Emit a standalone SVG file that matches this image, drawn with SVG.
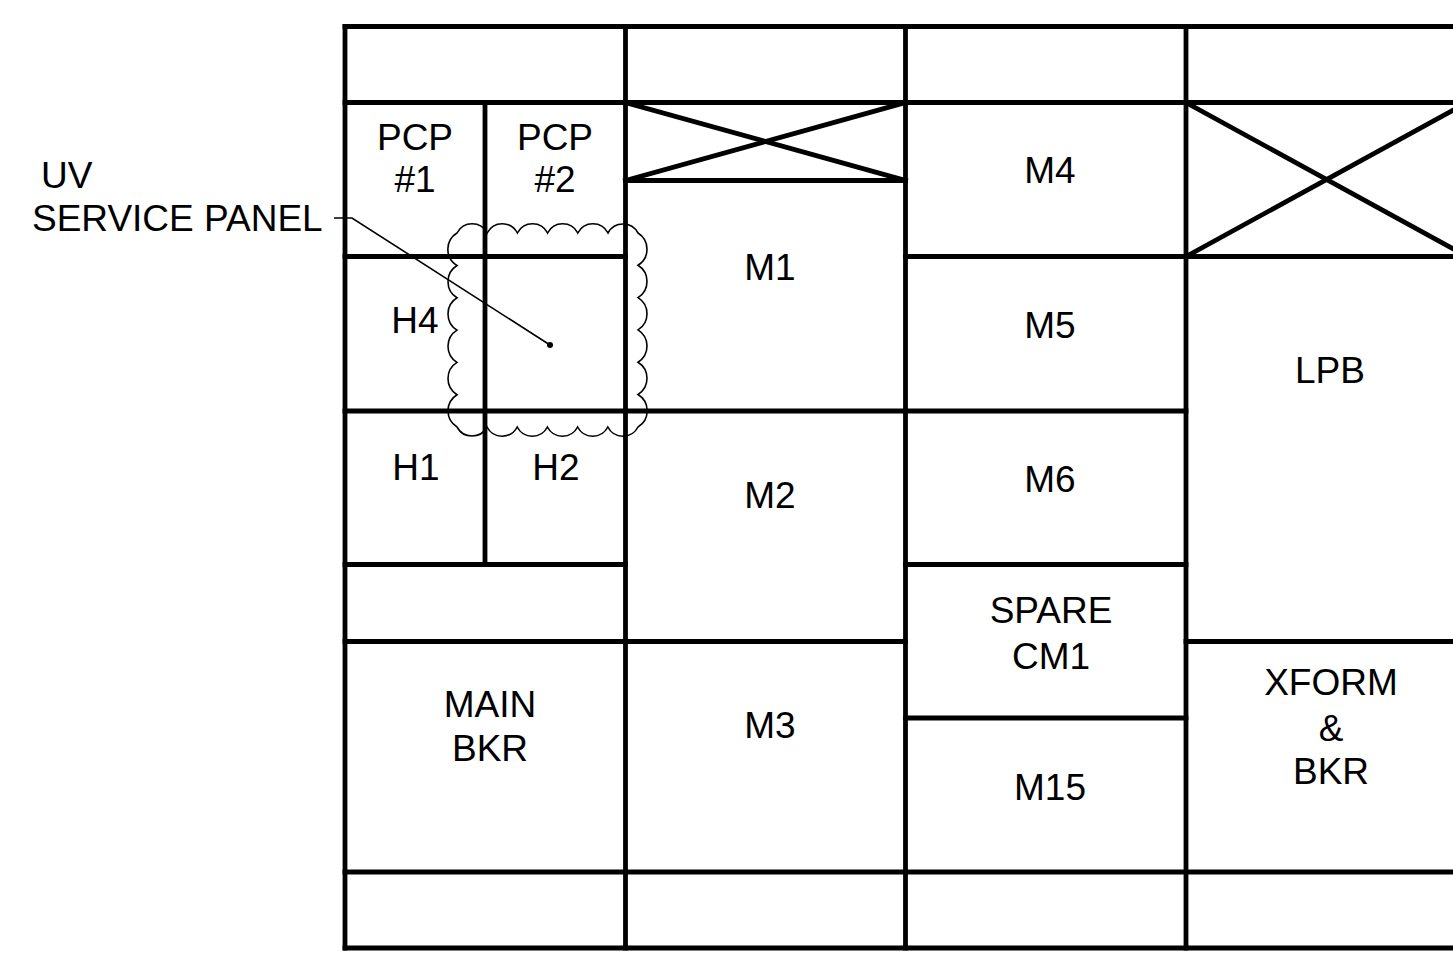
<svg xmlns="http://www.w3.org/2000/svg" width="1453" height="970" viewBox="0 0 1453 970">
<style>
.g{stroke:#000;stroke-width:4.8;fill:none;stroke-linecap:square}
.t{font-family:"Liberation Sans",Arial,sans-serif;font-size:37px;fill:#000;text-anchor:middle}
.tl{font-family:"Liberation Sans",Arial,sans-serif;font-size:37px;fill:#000}
.thin{stroke:#000;stroke-width:1.6;fill:none}
</style>
<rect width="1453" height="970" fill="#fff"/>
<g id="frame" class="g">
<line x1="345" y1="26.5" x2="1467" y2="26.5"/>
<line x1="345" y1="102.5" x2="1467" y2="102.5"/>
<line x1="625.5" y1="180.5" x2="905.5" y2="180.5"/>
<line x1="345" y1="256.5" x2="625.5" y2="256.5"/>
<line x1="905.5" y1="256.5" x2="1467" y2="256.5"/>
<line x1="345" y1="411" x2="1186" y2="411"/>
<line x1="345" y1="564.5" x2="625.5" y2="564.5"/>
<line x1="905.5" y1="564.5" x2="1186" y2="564.5"/>
<line x1="345" y1="641.5" x2="905.5" y2="641.5"/>
<line x1="1186" y1="641.5" x2="1467" y2="641.5"/>
<line x1="905.5" y1="718" x2="1186" y2="718"/>
<line x1="345" y1="872" x2="1467" y2="872"/>
<line x1="345" y1="948" x2="1467" y2="948"/>
<line x1="345" y1="26.5" x2="345" y2="948"/>
<line x1="625.5" y1="26.5" x2="625.5" y2="948"/>
<line x1="905.5" y1="26.5" x2="905.5" y2="948"/>
<line x1="1186" y1="26.5" x2="1186" y2="948"/>
<line x1="485" y1="102.5" x2="485" y2="564.5"/>
<line x1="1467" y1="26.5" x2="1467" y2="948"/>
</g>
<g id="blank-x1" class="g">
<line x1="625.5" y1="102.5" x2="905.5" y2="180.5"/>
<line x1="625.5" y1="180.5" x2="905.5" y2="102.5"/>
</g>
<g id="blank-x2" class="g">
<line x1="1186" y1="102.5" x2="1467" y2="256.5"/>
<line x1="1186" y1="256.5" x2="1467" y2="102.5"/>
</g>
<g id="pcp1"><text class="t" x="415" y="150">PCP</text><text class="t" x="415" y="192">#1</text></g>
<g id="pcp2"><text class="t" x="555" y="150">PCP</text><text class="t" x="555" y="192">#2</text></g>
<g id="h4"><text class="t" x="415" y="333">H4</text></g>
<g id="h1"><text class="t" x="416" y="480">H1</text></g>
<g id="h2"><text class="t" x="556" y="480">H2</text></g>
<g id="main-bkr"><text class="t" x="490" y="717">MAIN</text><text class="t" x="490" y="761">BKR</text></g>
<g id="m1"><text class="t" x="770" y="280">M1</text></g>
<g id="m2"><text class="t" x="770" y="508">M2</text></g>
<g id="m3"><text class="t" x="770" y="738">M3</text></g>
<g id="m4"><text class="t" x="1050" y="183">M4</text></g>
<g id="m5"><text class="t" x="1050" y="338">M5</text></g>
<g id="m6"><text class="t" x="1050" y="492">M6</text></g>
<g id="spare-cm1"><text class="t" x="1051" y="623">SPARE</text><text class="t" x="1051" y="669">CM1</text></g>
<g id="m15"><text class="t" x="1050" y="800">M15</text></g>
<g id="lpb"><text class="t" x="1330" y="383">LPB</text></g>
<g id="xform"><text class="t" x="1331" y="695">XFORM</text><text class="t" x="1331" y="741">&amp;</text><text class="t" x="1331" y="784">BKR</text></g>
<g id="uv-cloud">
<path class="thin" d="M457 233
a17 17 0 0 1 30.2 0 a17 17 0 0 1 30.2 0 a17 17 0 0 1 30.2 0 a17 17 0 0 1 30.2 0 a17 17 0 0 1 30.2 0 a17 17 0 0 1 30 0
a19 19 0 0 1 0 32.3 a19 19 0 0 1 0 32.3 a19 19 0 0 1 0 32.3 a19 19 0 0 1 0 32.3 a19 19 0 0 1 0 32.3 a19 19 0 0 1 0 32.5
a17 17 0 0 1 -30.2 0 a17 17 0 0 1 -30.2 0 a17 17 0 0 1 -30.2 0 a17 17 0 0 1 -30.2 0 a17 17 0 0 1 -30.2 0 a17 17 0 0 1 -30 0
a19 19 0 0 1 0 -32.3 a19 19 0 0 1 0 -32.3 a19 19 0 0 1 0 -32.3 a19 19 0 0 1 0 -32.3 a19 19 0 0 1 0 -32.3 a19 19 0 0 1 0 -32.5 Z"/>
</g>
<g id="uv-label">
<text class="tl" x="41" y="188">UV</text>
<text class="tl" x="32" y="231">SERVICE PANEL</text>
</g>
<g id="connectors">
<polyline class="thin" points="334,218 352,218 550,345"/>
<circle cx="550" cy="345" r="3" fill="#000"/>
</g>
</svg>
